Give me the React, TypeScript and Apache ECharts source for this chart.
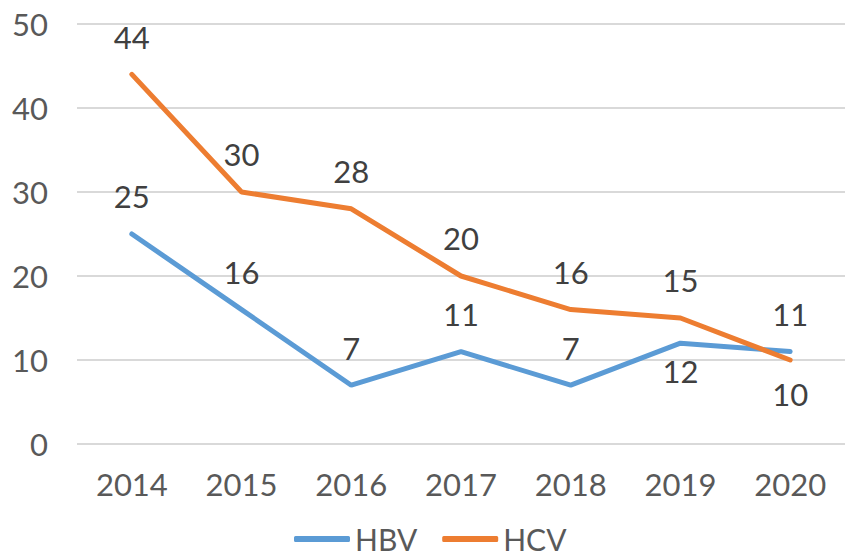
import React, { useEffect, useRef } from "react";
import * as echarts from "echarts";

const years = ["2014", "2015", "2016", "2017", "2018", "2019", "2020"];
const hbv = [25, 16, 7, 11, 7, 12, 11];
const hcv = [44, 30, 28, 20, 16, 15, 10];
const hbvBelow = [5]; // 2019 label below
const hcvBelow = [6]; // 2020 label below

const FONT = "Lato";
const FS = 31;

function mkData(vals: number[], below: number[], dist: number) {
  return vals.map((v, i) =>
    below.includes(i)
      ? { value: v, label: { position: "bottom", distance: dist } }
      : { value: v }
  );
}

export default function App() {
  const ref = useRef<HTMLDivElement>(null);
  useEffect(() => {
    if (!ref.current) return;
    const chart = echarts.init(ref.current, undefined, { renderer: "svg" });
    const labelStyle = {
      show: true,
      position: "top",
      distance: 22,
      fontFamily: FONT,
      fontSize: FS,
      color: "#404040",
    };
    chart.setOption({
      animation: false,
      grid: { left: 77, width: 771, top: 24, height: 420, containLabel: false },
      xAxis: {
        type: "category",
        data: years,
        boundaryGap: true,
        axisLine: { show: false },
        axisTick: { show: false },
        axisLabel: { fontFamily: FONT, fontSize: FS, color: "#595959", margin: 24 },
      },
      yAxis: {
        type: "value",
        min: 0,
        max: 50,
        interval: 10,
        axisLine: { show: false },
        axisTick: { show: false },
        splitLine: { lineStyle: { color: "#d9d9d9", width: 2 } },
        axisLabel: { fontFamily: FONT, fontSize: FS, color: "#595959", margin: 29 },
      },
      legend: {
        top: 524,
        left: 294,
        padding: 0,
        icon: "roundRect",
        itemWidth: 56,
        itemHeight: 6,
        itemGap: 25,
        textStyle: { fontFamily: FONT, fontSize: 30, lineHeight: 24, color: "#595959" },
        data: ["HBV", "HCV"],
      },
      series: [
        {
          name: "HBV",
          type: "line",
          data: mkData(hbv, hbvBelow, 12),
          symbol: "circle",
          symbolSize: 0.01,
          showSymbol: true,
          lineStyle: { color: "#5b9bd5", width: 5, cap: "round" },
          itemStyle: { color: "#5b9bd5" },
          label: labelStyle,
        },
        {
          name: "HCV",
          type: "line",
          data: mkData(hcv, hcvBelow, 18),
          symbol: "circle",
          symbolSize: 0.01,
          showSymbol: true,
          lineStyle: { color: "#ed7d31", width: 5, cap: "round" },
          itemStyle: { color: "#ed7d31" },
          label: labelStyle,
        },
      ],
    });
    return () => chart.dispose();
  }, []);
  return (
    <div
      ref={ref}
      style={{ position: "fixed", left: 0, top: 0, width: 845, height: 557, background: "#fff" }}
    />
  );
}
